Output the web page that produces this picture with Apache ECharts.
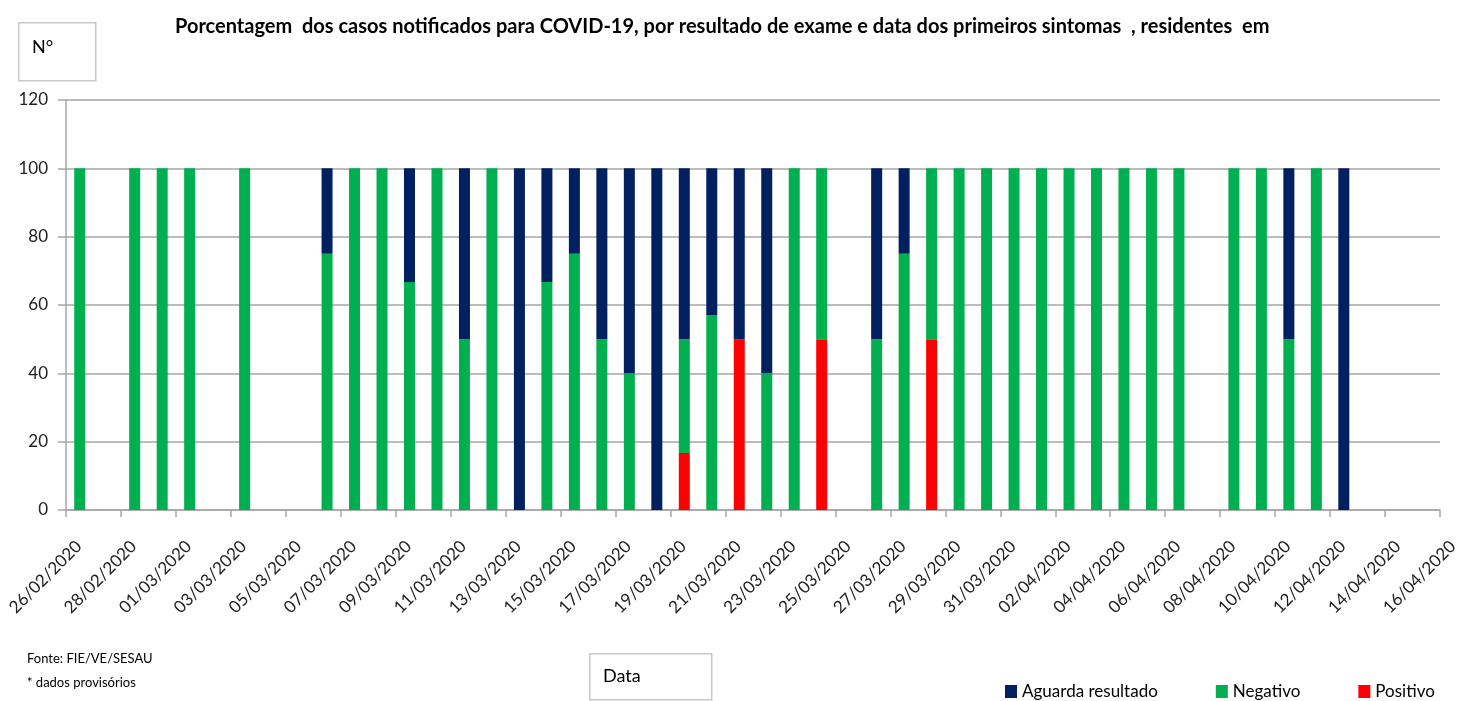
<!DOCTYPE html>
<html>
<head>
<meta charset="utf-8">
<script src="https://cdn.jsdelivr.net/npm/echarts@6/dist/echarts.min.js"></script>
<style>
  html, body { margin: 0; padding: 0; background: #fff; }
  #main { width: 1459px; height: 701px; }
</style>
</head>
<body>
<div id="main"></div>
<script>
// datas dos primeiros sintomas (somente dias com casos)
var datas = ['26/02/2020', '28/02/2020', '29/02/2020', '01/03/2020', '03/03/2020',
  '06/03/2020', '07/03/2020', '08/03/2020', '09/03/2020', '10/03/2020', '11/03/2020',
  '12/03/2020', '13/03/2020', '14/03/2020', '15/03/2020', '16/03/2020', '17/03/2020',
  '18/03/2020', '19/03/2020', '20/03/2020', '21/03/2020', '22/03/2020', '23/03/2020',
  '24/03/2020', '26/03/2020', '27/03/2020', '28/03/2020', '29/03/2020', '30/03/2020',
  '31/03/2020', '01/04/2020', '02/04/2020', '03/04/2020', '04/04/2020', '05/04/2020',
  '06/04/2020', '08/04/2020', '09/04/2020', '10/04/2020', '11/04/2020', '12/04/2020']

// percentuais por resultado
var positivo = [0, 0, 0, 0, 0,
  0, 0, 0, 0, 0, 0,
  0, 0, 0, 0, 0, 0,
  0, 16.7, 0, 50, 0, 0,
  50, 0, 0, 50, 0, 0,
  0, 0, 0, 0, 0, 0,
  0, 0, 0, 0, 0, 0]
var negativo = [100, 100, 100, 100, 100,
  75, 100, 100, 66.7, 100, 50,
  100, 0, 66.7, 75, 50, 40,
  0, 33.3, 57.1, 0, 40, 100,
  50, 50, 75, 50, 100, 100,
  100, 100, 100, 100, 100, 100,
  100, 100, 100, 50, 100, 0]
var aguarda = [0, 0, 0, 0, 0,
  25, 0, 0, 33.3, 0, 50,
  0, 100, 33.3, 25, 50, 60,
  100, 50, 42.9, 50, 60, 0,
  0, 50, 25, 0, 0, 0,
  0, 0, 0, 0, 0, 0,
  0, 0, 0, 50, 0, 100]

var inicio = Date.UTC(2020, 1, 26)
var diasTotal = 50
var umDia = 86400000

function rotuloData (v) {
  var d = new Date(inicio + v * umDia)
  var dd = ('0' + d.getUTCDate()).slice(-2)
  var mm = ('0' + (d.getUTCMonth() + 1)).slice(-2)
  return dd + '/' + mm + '/' + d.getUTCFullYear()
}

// todos os dias do eixo (26/02 a 15/04)
var dias = []
for (var i = 0; i < diasTotal; i++) dias.push(rotuloData(i))

function serie (vals) {
  return dias.map(function (d) {
    var k = datas.indexOf(d)
    return k < 0 ? 0 : vals[k]
  })
}

var fonte = 'Lato, "Open Sans", sans-serif'
var cinza = '#a6a6a6'
var myChart = echarts.init(document.getElementById('main'))
myChart.setOption({
  animation: false,
  textStyle: { fontFamily: fonte },
  title: {
    text: 'Porcentagem  dos casos notificados para COVID-19, por resultado de exame e data dos primeiros sintomas  , residentes  em',
    left: 170,
    top: 12,
    textStyle: { fontSize: 20, fontWeight: 'bold', color: '#000', fontFamily: fonte }
  },
  legend: {
    left: 1000,
    top: 678,
    itemWidth: 12,
    itemHeight: 13,
    itemGap: 58,
    icon: 'rect',
    textStyle: { fontSize: 17, color: '#000' },
    data: ['Aguarda resultado', 'Negativo', 'Positivo']
  },
  grid: { left: 66, right: 19, top: 100, bottom: 191, containLabel: false, outerBoundsMode: 'none' },
  xAxis: [
    {
      type: 'category',
      data: dias,
      boundaryGap: true,
      position: 'bottom',
      axisLine: { show: false },
      axisTick: { show: false },
      axisLabel: { show: false },
      splitLine: { show: false }
    },
    {
      type: 'value',
      min: 0,
      max: diasTotal,
      interval: 2,
      position: 'bottom',
      offset: 0,
      splitLine: { show: false },
      axisLine: { show: true, onZero: false, lineStyle: { color: cinza, width: 1.5 } },
      axisTick: { show: true, length: 7, lineStyle: { color: cinza, width: 1.5 } },
      axisLabel: {
        rotate: 45,
        fontSize: 17,
        color: '#222',
        margin: 21,
        verticalAlign: 'top',
        lineHeight: 36,
        formatter: rotuloData
      }
    }
  ],
  yAxis: {
    type: 'value',
    min: 0,
    max: 120,
    interval: 20,
    axisLine: { show: true, lineStyle: { color: cinza, width: 1.5 } },
    axisTick: { show: true, length: 8, lineStyle: { color: cinza, width: 1.5 } },
    splitLine: { lineStyle: { color: cinza, width: 1.5 } },
    axisLabel: { fontSize: 17, color: '#222', margin: 18 }
  },
  series: [
    {
      name: 'Positivo', type: 'bar', stack: 'total', barWidth: 11, xAxisIndex: 0,
      itemStyle: { color: '#ff0000' }, data: serie(positivo)
    },
    {
      name: 'Negativo', type: 'bar', stack: 'total', barWidth: 11, xAxisIndex: 0,
      itemStyle: { color: '#00b050' }, data: serie(negativo)
    },
    {
      name: 'Aguarda resultado', type: 'bar', stack: 'total', barWidth: 11, xAxisIndex: 0,
      itemStyle: { color: '#002060' }, data: serie(aguarda)
    }
  ],
  graphic: [
    {
      type: 'rect', left: 18, top: 22,
      shape: { width: 77, height: 58 },
      style: { fill: '#fff', stroke: '#c8c8c8', lineWidth: 1.5 }
    },
    {
      type: 'text', left: 32, top: 38,
      style: { text: 'N°', font: '18px ' + fonte, fill: '#000' }
    },
    {
      type: 'rect', left: 589, top: 653,
      shape: { width: 122, height: 46 },
      style: { fill: '#fff', stroke: '#c8c8c8', lineWidth: 1.5 }
    },
    {
      type: 'text', left: 603, top: 667,
      style: { text: 'Data', font: '18px ' + fonte, fill: '#000' }
    },
    {
      type: 'text', left: 27, top: 652,
      style: { text: 'Fonte: FIE/VE/SESAU', font: '13px ' + fonte, fill: '#000' }
    },
    {
      type: 'text', left: 27, top: 676,
      style: { text: '* dados provisórios', font: '13px ' + fonte, fill: '#000' }
    }
  ]
})
</script>
</body>
</html>
